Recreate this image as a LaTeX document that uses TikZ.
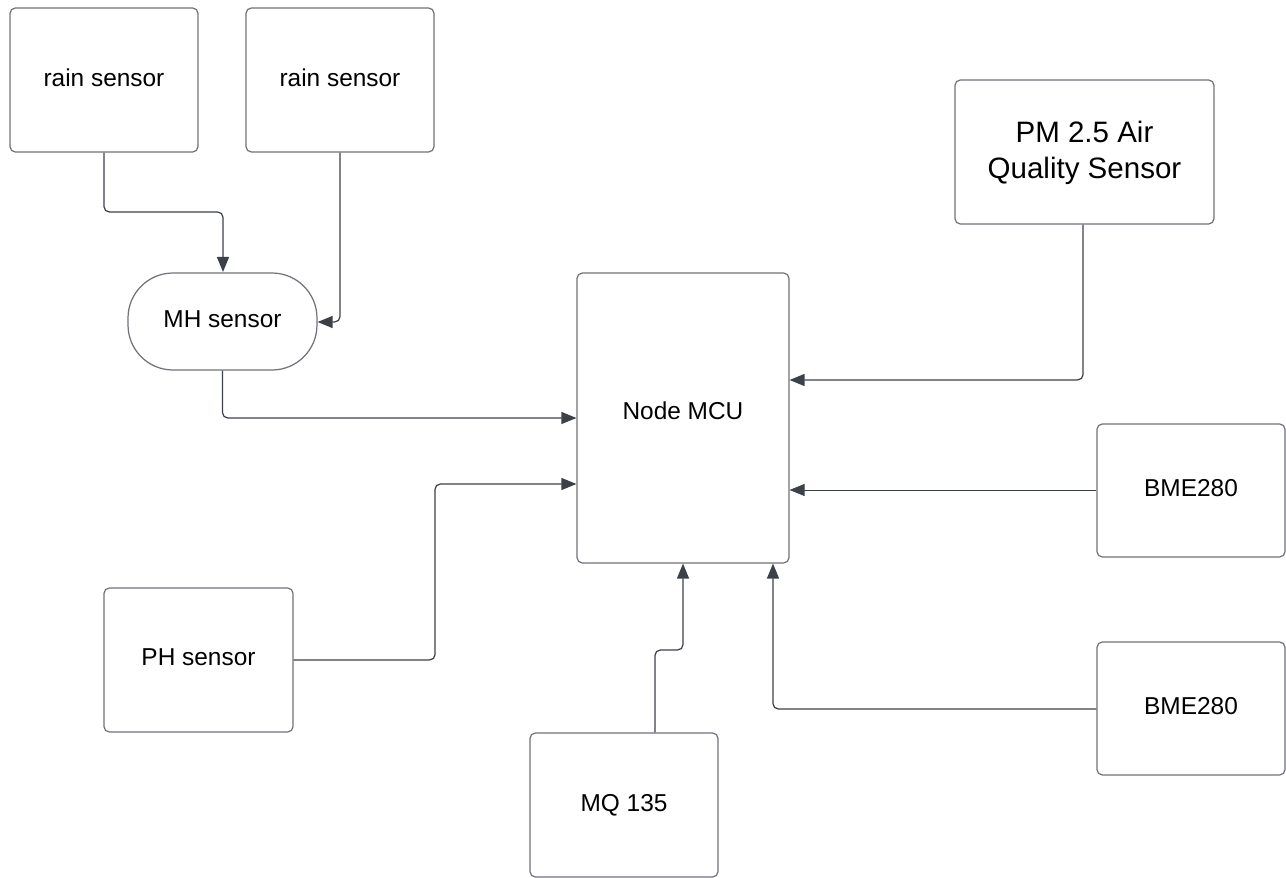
\documentclass[tikz,border=0pt]{standalone}
\usepackage{fontspec}
\setmainfont{Liberation Sans}
\usetikzlibrary{arrows.meta,positioning,calc}
\definecolor{boxgray}{HTML}{6E7279}
\definecolor{wiregray}{HTML}{3C4149}

\begin{document}
\begin{tikzpicture}[x=0.02cm, y=-0.02cm,
    block/.style={rectangle, draw=boxgray, line width=0.7pt, rounded corners=3pt, align=center, font=\fontsize{13.9}{16}\selectfont, inner sep=0pt, text depth=0.1cm},
    pill/.style={block, rounded corners=0.9cm},
    wire/.style={draw=wiregray, line width=0.7pt, rounded corners=3pt, -{Triangle[length=0.3cm, width=0.24cm]}}]
         \useasboundingbox (0,0) rectangle (1286,878);

         % Define nodes
         \node[block, minimum width=3.76cm, minimum height=2.88cm] (rainA) at (104,80) {rain sensor};
         \node[block, minimum width=3.76cm, minimum height=2.88cm] (rainB) at (340,80) {rain sensor};
         \node[pill, minimum width=3.78cm, minimum height=1.94cm] (mh) at (222.5,321.5) {MH sensor};
         \node[block, minimum width=4.24cm, minimum height=5.8cm] (mcu) at (683,418) {\raisebox{0.2cm}{Node MCU}};
         \node[block, minimum width=5.18cm, minimum height=2.88cm, font=\fontsize{16.8}{20.4}\selectfont] (pm) at (1084.5,152) {PM 2.5 Air\\Quality Sensor};
         \node[block, minimum width=3.76cm, minimum height=2.66cm] (bmeA) at (1191,490.5) {BME280};
         \node[block, minimum width=3.76cm, minimum height=2.66cm] (bmeB) at (1191,708.5) {BME280};
         \node[block, minimum width=3.78cm, minimum height=2.88cm] (ph) at (198.5,660) {PH sensor};
         \node[block, minimum width=3.76cm, minimum height=2.88cm] (mq) at (624,805) {MQ 135};

         % Draw edges
         \draw[wire] (rainA.south) |- (223,212) -- (223,272);
         \draw[wire] (rainB.south) |- (mh.east |- 0,322);
         \draw[wire] (mh.south) |- (mcu.west |- 0,418);
         \draw[wire] (ph.east) -| (435,484) -- (mcu.west |- 0,484);
         \draw[wire] (mq.north -| 655,0) |- (683,650) -- (mcu.south -| 683,0);
         \draw[wire] (bmeB.west |- 0,709) -| (mcu.south -| 773,0);
         \draw[wire, line width=0.45pt] (bmeA.west |- 0,490) -- (mcu.east |- 0,490);
         \draw[wire] (pm.south -| 1083,0) |- (mcu.east |- 0,380);
\end{tikzpicture}
\end{document}
